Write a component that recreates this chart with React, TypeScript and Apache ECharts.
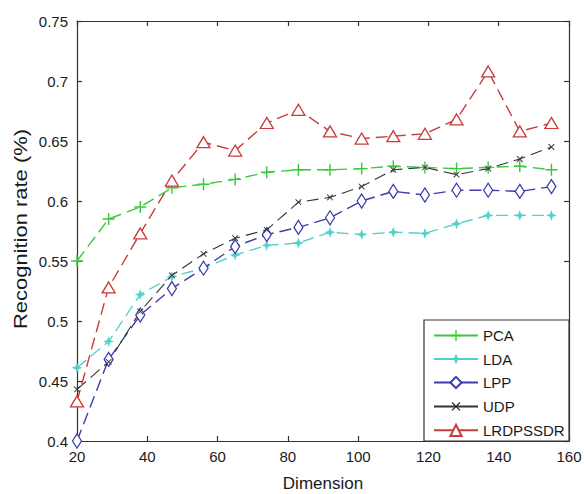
import React, { useEffect, useRef } from "react";
import * as echarts from "echarts";

const dimensions = [20, 29, 38, 47, 56, 65, 74, 83, 92, 101, 110, 119, 128, 137, 146, 155];
const pca = [0.55, 0.585, 0.595, 0.611, 0.614, 0.618, 0.624, 0.626, 0.626, 0.627, 0.629, 0.628, 0.627, 0.628, 0.629, 0.626];
const lda = [0.461, 0.483, 0.522, 0.537, 0.544, 0.555, 0.563, 0.565, 0.574, 0.572, 0.574, 0.573, 0.581, 0.588, 0.588, 0.588];
const lpp = [0.4, 0.468, 0.505, 0.527, 0.544, 0.562, 0.572, 0.578, 0.586, 0.6, 0.608, 0.605, 0.609, 0.609, 0.608, 0.612];
const udp = [0.443, 0.466, 0.508, 0.538, 0.556, 0.569, 0.576, 0.599, 0.603, 0.612, 0.626, 0.628, 0.622, 0.627, 0.635, 0.645];
const lrdpssdr = [0.433, 0.528, 0.573, 0.617, 0.649, 0.642, 0.665, 0.676, 0.658, 0.652, 0.654, 0.656, 0.668, 0.708, 0.658, 0.665];
const seriesNames = ["PCA", "LDA", "LPP", "UDP", "LRDPSSDR"];
const xTitle = "Dimension";
const yTitle = "Recognition rate (%)";

const FONT = "Liberation Sans, Arial, sans-serif";
const PLUS = "path://M4.4,0H5.6V10H4.4Z M0,4.4H10V5.6H0Z";
const STAR = "path://M5,0 L6.3,3.7 L10,5 L6.3,6.3 L5,10 L3.7,6.3 L0,5 L3.7,3.7 Z";

export default function App() {
  const ref = useRef<HTMLDivElement>(null);
  useEffect(() => {
    if (!ref.current) return;
    const chart = echarts.init(ref.current, undefined, { renderer: "svg" });
    const pairs = (arr: number[]) => dimensions.map((d, i) => [d, arr[i]]);
    const dash = [12, 6];
    const mk = (name: string, data: number[], color: string, symbol: string, size: any, hollow: boolean, rotate = 0, width = 1.4) => ({
      name,
      type: "line",
      data: pairs(data),
      symbol,
      symbolSize: size,
      symbolRotate: rotate,
      lineStyle: { color, width, type: dash },
      itemStyle: hollow
        ? { color: "#fff", borderColor: color, borderWidth: 1.3 }
        : { color, borderWidth: 0 },
      emphasis: { disabled: true },
    });
    const labelFmt = (v: number) => String(+v.toFixed(2));
    const axisLine = { lineStyle: { color: "#333", width: 1.2 } };
    const tick = { inside: true, length: 5, lineStyle: { color: "#333", width: 1.2 } };
    chart.setOption({
      animation: false,
      backgroundColor: "#fff",
      grid: { left: 77, right: 15, top: 21, bottom: 53, outerBoundsMode: "none", containLabel: false },
      xAxis: [
        {
          type: "value", min: 20, max: 160, interval: 20, position: "bottom",
          axisLine, axisTick: tick, splitLine: { show: false },
          axisLabel: { margin: 8, fontSize: 15, color: "#1a1a1a", fontFamily: FONT },
          name: xTitle, nameLocation: "middle", nameGap: 34,
          nameTextStyle: { fontSize: 17, lineHeight: 17, color: "#1a1a1a", fontFamily: FONT },
        },
        {
          type: "value", min: 20, max: 160, interval: 20, position: "top",
          axisLine, axisTick: tick, axisLabel: { show: false }, splitLine: { show: false },
        },
      ],
      yAxis: [
        {
          type: "value", min: 0.4, max: 0.75, interval: 0.05, position: "left",
          axisLine: { show: true, ...axisLine }, axisTick: tick, splitLine: { show: false },
          axisLabel: { margin: 9, fontSize: 15, color: "#1a1a1a", fontFamily: FONT, formatter: labelFmt },
        },
        {
          type: "value", min: 0.4, max: 0.75, interval: 0.05, position: "right",
          axisLine: { show: true, ...axisLine }, axisTick: tick, axisLabel: { show: false }, splitLine: { show: false },
        },
      ],
      legend: {
        orient: "vertical",
        left: 433,
        top: 328,
        padding: 0,
        itemWidth: 44,
        itemHeight: 14,
        itemGap: 8.5,
        data: seriesNames,
        lineStyle: { type: "solid" },
        textStyle: { fontSize: 15, color: "#1a1a1a", fontFamily: FONT },
        z: 10,
      },
      graphic: [
        {
          type: "rect",
          shape: { x: 424, y: 320, width: 145, height: 121 },
          style: { fill: "#fff", stroke: "#333", lineWidth: 1.2 },
          z: 5,
        },
        {
          type: "text",
          x: 21,
          y: 229,
          rotation: Math.PI / 2,
          scaleX: 1.22,
          style: {
            text: yTitle,
            font: `18px ${FONT}`,
            fill: "#1a1a1a",
            align: "center",
            verticalAlign: "middle",
          },
          z: 5,
        },
      ],
      series: [
        mk(seriesNames[0], pca, "#3cc83c", PLUS, 12, false),
        mk(seriesNames[1], lda, "#50d2cc", STAR, 11, false),
        mk(seriesNames[2], lpp, "#3c3caa", "diamond", [9, 14], true),
        mk(seriesNames[3], udp, "#333333", PLUS, 8, false, 45, 1.1),
        mk(seriesNames[4], lrdpssdr, "#c83c3c", "triangle", [13, 11], true),
      ],
    });
    return () => chart.dispose();
  }, []);
  return (
    <div
      ref={ref}
      style={{ position: "fixed", left: 0, top: 0, width: 584, height: 494, background: "#fff" }}
    />
  );
}
